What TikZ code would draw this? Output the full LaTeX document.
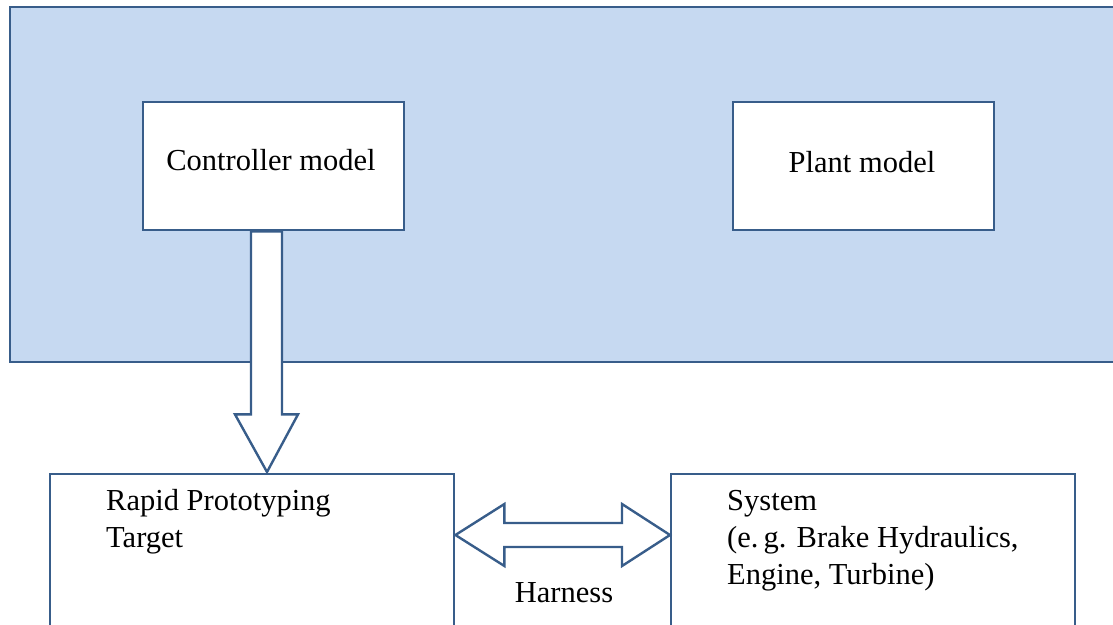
\documentclass[tikz,border=0pt]{standalone}
\usepackage{fontspec}
\setmainfont{Liberation Serif}
\usetikzlibrary{calc}
\definecolor{panelfill}{HTML}{C6D9F1}
\definecolor{edge}{HTML}{385D8A}
\begin{document}
\begin{tikzpicture}[x=1pt,y=-1pt,
  panel/.style={draw=edge,fill=panelfill,line width=2.4pt,rectangle,inner sep=0pt,anchor=north west},
  box/.style={draw=edge,fill=white,line width=2.4pt,rectangle,inner sep=0pt,anchor=north west},
  txt/.style={font=\fontsize{30.5}{37}\selectfont,inner sep=0pt,text=black},
  fatarrow/.style={draw=edge,fill=white,line width=2.4pt,line join=miter}]
\useasboundingbox (0,0) rectangle (1113,624);

% simulation environment panel with its two models
\node[panel,minimum width=1120pt,minimum height=355pt] (sim) at (9,6) {};
\node[box,minimum width=261pt,minimum height=128pt] (ctrl) at (142,101) {};
\node[box,minimum width=261pt,minimum height=128pt] (plant) at (732,101) {};
\node[txt] (ctrltxt) at (271,160) {Controller model};
\node[txt] (planttxt) at (862,162) {Plant model};

% hardware side
\node[box,minimum width=404pt,minimum height=200pt] (rpt) at (49,473) {};
\node[box,minimum width=404pt,minimum height=200pt] (sys) at (670,473) {};
\node[txt,anchor=north west,align=left] (rpttxt) at ($(rpt.north west)+(57,16)$) {Rapid Prototyping\\Target};
\node[txt,anchor=north west,align=left] (systxt) at ($(sys.north west)+(57,17)$) {System\\(e.\,g. Brake Hydraulics,\\Engine, Turbine)};

% block arrow: controller model down to the prototyping target
\coordinate (dtop) at ($(ctrl.south west)+(109,0)$);
\coordinate (dtip) at ($(rpt.north west)+(218,-1)$);
\draw[fatarrow] (dtop) -- ($(dtop)+(0,183)$) -- ++(-16,0) -- (dtip)
  -- ($(dtop)+(47,183)$) -- ++(-16,0) -- ($(dtop)+(31,0)$) -- cycle;

% double block arrow: the harness
\coordinate (hl) at ($(rpt.north east)+(0,62)$);
\coordinate (hr) at ($(sys.north west)+(0,62)$);
\draw[fatarrow] (hl) -- ++(49,-31) -- ++(0,19) -- ($(hr)+(-48,-12)$) -- ++(0,-19)
  -- (hr) -- ++(-48,31) -- ++(0,-19) -- ($(hl)+(49,12)$) -- ++(0,19) -- cycle;
\node[txt] (harness) at (564,593) {Harness};
\end{tikzpicture}
\end{document}
